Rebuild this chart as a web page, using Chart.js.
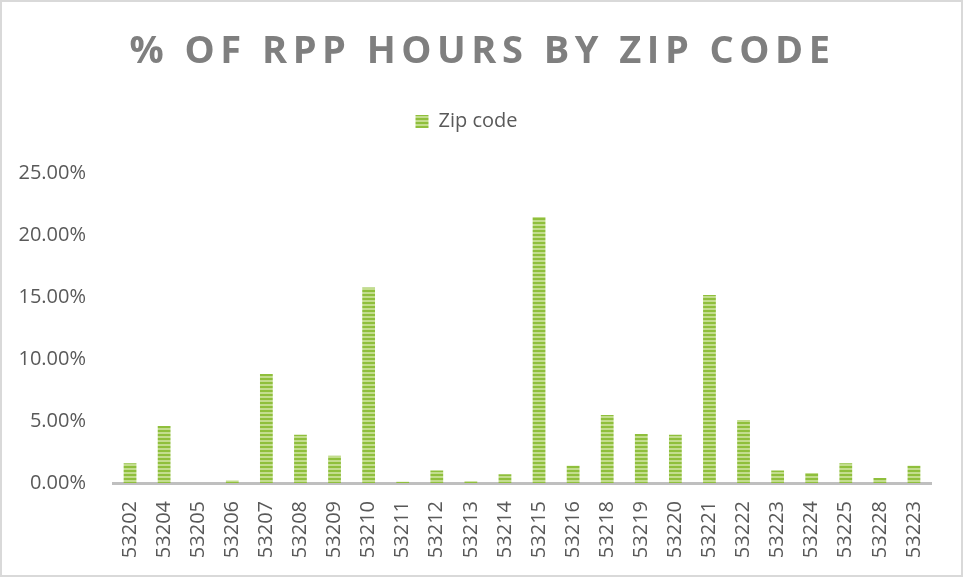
<!DOCTYPE html>
<html>
<head>
<meta charset="utf-8">
<script src="https://cdn.jsdelivr.net/npm/chart.js@4"></script>
<style>
  html, body { margin: 0; padding: 0; background: #fff; }
  #wrap { width: 963px; height: 577px; box-sizing: border-box; border: 2px solid #d9d9d9; position: relative; }
  canvas { display: block; }
</style>
</head>
<body>
<div id="wrap"><canvas id="myChart" width="959" height="573"></canvas></div>
<script>
// data
const zipCodes = ['53202', '53204', '53205', '53206', '53207', '53208', '53209', '53210', '53211', '53212',
  '53213', '53214', '53215', '53216', '53218', '53219', '53220', '53221', '53222', '53223',
  '53224', '53225', '53228', '53223'];
const hoursPct = [1.6, 4.6, 0, 0.2, 8.8, 3.9, 2.2, 15.8, 0.1, 1.0,
  0.15, 0.7, 21.5, 1.4, 5.5, 3.95, 3.9, 15.2, 5.1, 1.0,
  0.8, 1.6, 0.4, 1.4];
const yTicks = [0, 5, 10, 15, 20, 25];

// striped fill like the excel bars
function stripes() {
  const c = document.createElement('canvas');
  c.width = 4; c.height = 4;
  const g = c.getContext('2d');
  g.fillStyle = '#c3dd8e';
  g.fillRect(0, 0, 4, 4);
  g.fillStyle = '#8fbf3c';
  g.fillRect(0, 0, 4, 2);
  return g.createPattern(c, 'repeat');
}
const fill = stripes();

// title letter spacing + extra room under the legend
const tweaks = {
  id: 'tweaks',
  beforeInit(chart) {
    const lg = chart.legend;
    if (lg) {
      const fit = lg.fit;
      lg.fit = function () {
        fit.call(this);
        this.height += 32;
      };
    }
  },
  beforeDraw(chart) {
    const tb = chart.titleBlock;
    if (tb && !tb._spaced) {
      const orig = tb.draw;
      tb.draw = function () {
        const ctx = chart.ctx;
        ctx.save();
        ctx.letterSpacing = '5.5px';
        ctx.translate(16, 0);
        orig.call(this);
        ctx.restore();
      };
      tb._spaced = true;
    }
  }
};

const gray = '#595959';

const config = {
  type: 'bar',
  data: {
    labels: zipCodes,
    datasets: [{
      label: 'Zip code',
      data: hoursPct,
      backgroundColor: fill,
      borderWidth: 0,
      barPercentage: 0.75,
      categoryPercentage: 0.5
    }]
  },
  options: {
    responsive: false,
    animation: false,
    layout: { padding: { left: 0, right: 30, top: 12, bottom: 12 } },
    plugins: {
      title: {
        display: true,
        text: '% OF RPP HOURS BY ZIP CODE',
        color: '#7f7f7f',
        font: { family: 'Open Sans', size: 38, weight: 'bold' },
        padding: { top: 15, bottom: 27 }
      },
      legend: {
        labels: {
          color: gray,
          font: { family: 'Open Sans', size: 20 },
          boxWidth: 13,
          boxHeight: 13,
          padding: 10
        }
      },
      tooltip: { enabled: false }
    },
    scales: {
      x: {
        grid: { display: false },
        border: { display: true, color: '#bfbfbf', width: 3 },
        afterFit(axis) { axis.height = 80; },
        ticks: {
          color: gray,
          font: { family: 'Open Sans', size: 20 },
          minRotation: 90,
          maxRotation: 90,
          autoSkip: false,
          padding: 10
        }
      },
      y: {
        min: 0,
        max: 25,
        grid: { display: false },
        border: { display: false },
        afterBuildTicks(axis) { axis.ticks = yTicks.map(v => ({ value: v })); },
        afterFit(axis) { axis.width = 111; },
        ticks: {
          color: gray,
          font: { family: 'Open Sans', size: 20 },
          padding: 19,
          callback: v => v.toFixed(2) + '%'
        }
      }
    }
  },
  plugins: [tweaks]
};

const myChart = new Chart(document.getElementById('myChart'), config);
</script>
</body>
</html>
